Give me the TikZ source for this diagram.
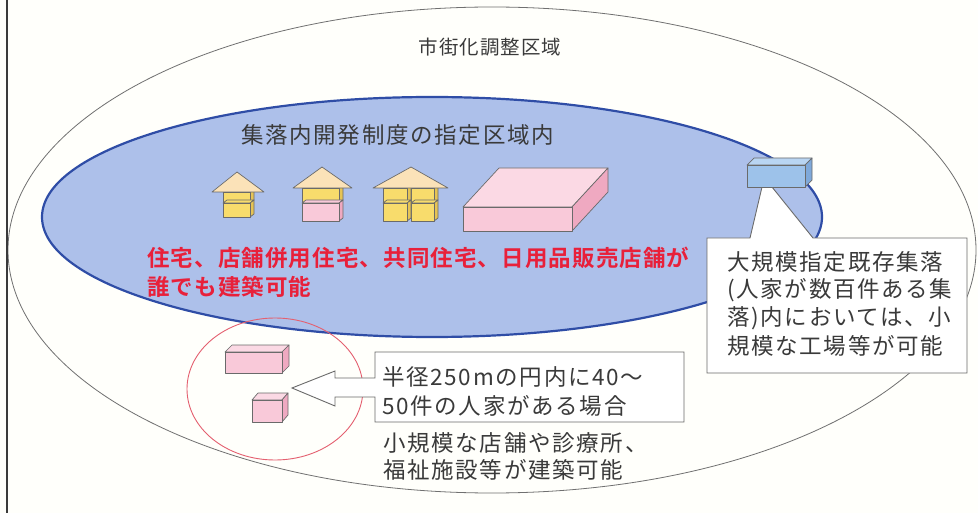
\documentclass[tikz,border=0pt]{standalone}
\usepackage{fontspec}
\newfontfamily\jpT[LetterSpace=5]{Noto Sans CJK JP}
\newfontfamily\jpS[LetterSpace=7.5]{Noto Sans CJK JP}
\newfontfamily\jpR[LetterSpace=5]{Noto Sans CJK JP Bold}

\definecolor{paper}{HTML}{FFFFFB}
\definecolor{inkgray}{HTML}{3A3A3A}
\definecolor{zonered}{HTML}{E8203A}
\definecolor{outerline}{HTML}{707070}
\definecolor{blueline}{HTML}{2F4DA6}
\definecolor{bluefill}{HTML}{ADC0EA}
\definecolor{circlered}{HTML}{E46070}
\definecolor{boxgray}{HTML}{6A6A6A}
\definecolor{yellowf}{HTML}{F8DC6C}
\definecolor{yellows}{HTML}{E6C455}
\definecolor{roofc}{HTML}{FBE2B8}
\definecolor{pinkf}{HTML}{F9C9D9}
\definecolor{pinkt}{HTML}{FBD9E4}
\definecolor{pinks}{HTML}{EFA9C1}
\definecolor{bluef}{HTML}{9DC2EA}
\definecolor{bluet}{HTML}{B9D5F2}
\definecolor{blues}{HTML}{7FA9DA}

% box with a front face, a top face and a right side face
% #1,#2 = top-left of front, #3,#4 = bottom-right of front, #5,#6 = depth offset
% #7 front colour, #8 top colour, #9 side colour
\newcommand\blockbox[9]{%
  \filldraw[edge, fill=#8] (#1,#2) -- (#3,#2) -- ({#3+#5},{#2-#6}) -- ({#1+#5},{#2-#6}) -- cycle;
  \filldraw[edge, fill=#9] (#3,#2) -- ({#3+#5},{#2-#6}) -- ({#3+#5},{#4-#6}) -- (#3,#4) -- cycle;
  \filldraw[edge, fill=#7] (#1,#2) rectangle (#3,#4);
}

\tikzset{
  edge/.style={draw=boxgray, line width=0.7pt, line join=round},
  roof/.style={draw=boxgray, line width=0.7pt, fill=roofc, line join=round},
  framebox/.style={draw=boxgray, line width=0.9pt, fill=white, line join=miter},
  label/.style={inner sep=0pt, text=inkgray},
  body/.style={label, anchor=west, font=\jpS\fontsize{22.5}{22.5}\selectfont},
  redtext/.style={label, anchor=west, text=zonered, font=\jpR\fontsize{22.5}{22.5}\selectfont},
}

\begin{document}
\begin{tikzpicture}[x=1pt, y=-1pt]
\useasboundingbox (0,0) rectangle (978,513);
\fill[paper] (0,0) rectangle (978,513);

% urbanization control area
\draw[outerline, line width=0.8pt] (492,250) ellipse [x radius=484pt, y radius=243pt];

% designated settlement development zone
\filldraw[draw=blueline, line width=2.2pt, fill=bluefill] (432,217) ellipse [x radius=390pt, y radius=120pt];

% 250 m radius circle
\draw[circlered, line width=0.9pt] (275,389) ellipse [x radius=88pt, y radius=71pt];

% house 1
\blockbox{223}{192}{250}{203}{4}{3}{yellowf}{yellowf}{yellows}
\blockbox{223}{203}{250}{217}{4}{3}{yellowf}{yellowf}{yellows}
\filldraw[roof] (212,192) -- (237,172) -- (264,192) -- cycle;

% house 2 (shop + dwelling)
\blockbox{302}{188}{339}{203}{4}{3}{yellowf}{yellowf}{yellows}
\blockbox{302}{203}{339}{221}{4}{3}{pinkf}{pinkf}{pinks}
\filldraw[roof] (293,188) -- (322,167) -- (352,188) -- cycle;

% house 3 (shared dwelling)
\blockbox{411}{188}{434}{203}{4}{3}{yellowf}{yellowf}{yellows}
\blockbox{411}{203}{434}{221}{4}{3}{yellowf}{yellowf}{yellows}
\blockbox{383}{188}{407}{203}{4}{3}{yellowf}{yellowf}{yellows}
\blockbox{383}{203}{407}{221}{4}{3}{yellowf}{yellowf}{yellows}
\filldraw[roof] (373,188) -- (411,167) -- (448,188) -- cycle;

% daily goods store
\blockbox{463}{207}{572}{231}{36}{39}{pinkf}{pinkt}{pinks}

% small buildings inside the circle
\blockbox{225}{352}{282}{373}{7}{7}{pinkf}{pinkt}{pinks}
\blockbox{252}{400}{282}{422}{6}{7}{pinkf}{pinkt}{pinks}

% callout for the large existing settlement
\filldraw[framebox] (707,238) -- (750,238) -- (762,187) -- (772,187) -- (813,238)
  -- (967,238) -- (967,373) -- (707,373) -- cycle;
\blockbox{747}{165}{805}{187}{7}{7}{bluef}{bluet}{blues}

% condition box with arrow pointing into the circle
\filldraw[framebox] (375,352) -- (684,352) -- (684,422) -- (375,422) -- (375,397)
  -- (335,397) -- (335,406) -- (292,388) -- (335,371) -- (335,378) -- (375,378) -- cycle;

% texts
\node[label, font=\jpT\fontsize{19.5}{19.5}\selectfont] (title) at (490,47) {市街化調整区域};
\node[body] (zone) at (241,135) {集落内開発制度の指定区域内};

\node[redtext] (allowA) at (147,258) {住宅、店舗併用住宅、共同住宅、日用品販売店舗が};
\node[redtext] (allowB) at (147,287) {誰でも建築可能};

\node[body] (bigA) at (727,262) {大規模指定既存集落};
\node[body] (bigB) at (727,290) {(人家が数百件ある集};
\node[body] (bigC) at (727,318) {落)内においては、小};
\node[body] (bigD) at (727,346) {規模な工場等が可能};

\node[body] (condA) at (382,377) {半径250mの円内に40～};
\node[body] (condB) at (382,406) {50件の人家がある場合};

\node[body] (smallA) at (383,443) {小規模な店舗や診療所、};
\node[body] (smallB) at (383,470) {福祉施設等が建築可能};

% left frame line
\draw[inkgray, line width=2pt] (7,0) -- (7,513);
\end{tikzpicture}
\end{document}
